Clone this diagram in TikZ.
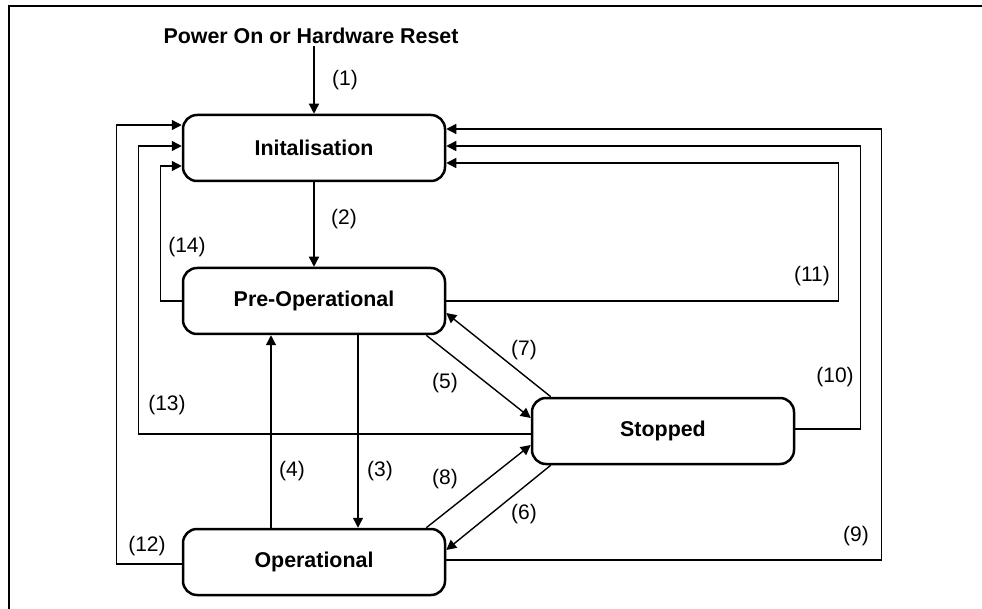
\documentclass[tikz,border=0pt]{standalone}
\usepackage{fontspec}
\setmainfont{Liberation Sans}
\usetikzlibrary{arrows.meta}
\begin{document}
\begin{tikzpicture}[x=1pt,y=-1pt,
  st/.style={draw,rounded corners=14pt,minimum width=262pt,minimum height=66pt,line width=2.5pt,inner sep=0pt,font=\fontsize{21.4}{25}\selectfont\bfseries},
  arr/.style={line width=1.4pt,-{Triangle[length=10pt,width=10pt]}},
  lbl/.style={inner sep=0pt,font=\fontsize{21}{25}\selectfont}]
\useasboundingbox (0,0) rectangle (982,609);
\draw[line width=2pt] (9,609) -- (9,6) -- (982,6);
\node[inner sep=2pt,font=\fontsize{21.4}{25}\selectfont\bfseries] (power) at (311,36) {Power On or Hardware Reset};
\node[st] (init) at (314,148) {Initalisation};
\node[st] (pre) at (314,301) {Pre-Operational};
\node[st] (op) at (314,562) {Operational};
\node[st] (stop) at (663,431) {Stopped};
% (1)-(4)
\draw[arr] (power.south -| init.north) -- (init.north);
\draw[arr] (init.south) -- (pre.north);
\draw[arr] ([xshift=44pt]pre.south) -- ([xshift=44pt]op.north);
\draw[arr] ([xshift=-43pt]op.north) -- ([xshift=-43pt]pre.south);
% diagonals
\draw[arr] ([xshift=-20pt]pre.south east) -- ([yshift=13pt]stop.west);
\draw[arr] ([xshift=20pt]stop.south west) -- ([yshift=12pt]op.east);
\draw[arr] ([xshift=20pt]stop.north west) -- ([yshift=-12pt]pre.east);
\draw[arr] ([xshift=-20pt]op.north east) -- ([yshift=-14pt]stop.west);
% right loops
\draw[arr] ([yshift=2pt]op.east) -| ([xshift=435pt,yshift=19pt]init.east) -- ([yshift=19pt]init.east);
\draw[arr] ([yshift=2pt]stop.east) -| ([xshift=414pt,yshift=2pt]init.east) -- ([yshift=2pt]init.east);
\draw[arr] (pre.east) -| ([xshift=392pt,yshift=-15pt]init.east) -- ([yshift=-15pt]init.east);
% left loops
\draw[arr] ([yshift=-2pt]op.west) -| ([xshift=-65pt,yshift=23pt]init.west) -- ([yshift=23pt]init.west);
\draw[arr] ([yshift=-3pt]stop.west) -| ([xshift=-43pt,yshift=2pt]init.west) -- ([yshift=2pt]init.west);
\draw[arr] (pre.west) -| ([xshift=-21pt,yshift=-18pt]init.west) -- ([yshift=-18pt]init.west);
% labels
\node[lbl] (l1) at (345,80) {(1)};
\node[lbl] (l2) at (344,219) {(2)};
\node[lbl] (l3) at (380,471) {(3)};
\node[lbl] (l4) at (292,471) {(4)};
\node[lbl] (l5) at (445,383) {(5)};
\node[lbl] (l6) at (524,514) {(6)};
\node[lbl] (l7) at (524,350) {(7)};
\node[lbl] (l8) at (445,479) {(8)};
\node[lbl] (l9) at (856,536) {(9)};
\node[lbl] (l10) at (835,377) {(10)};
\node[lbl] (l11) at (812,276) {(11)};
\node[lbl] (l12) at (147,546) {(12)};
\node[lbl] (l13) at (167,405) {(13)};
\node[lbl] (l14) at (187,247) {(14)};
\end{tikzpicture}
\end{document}
